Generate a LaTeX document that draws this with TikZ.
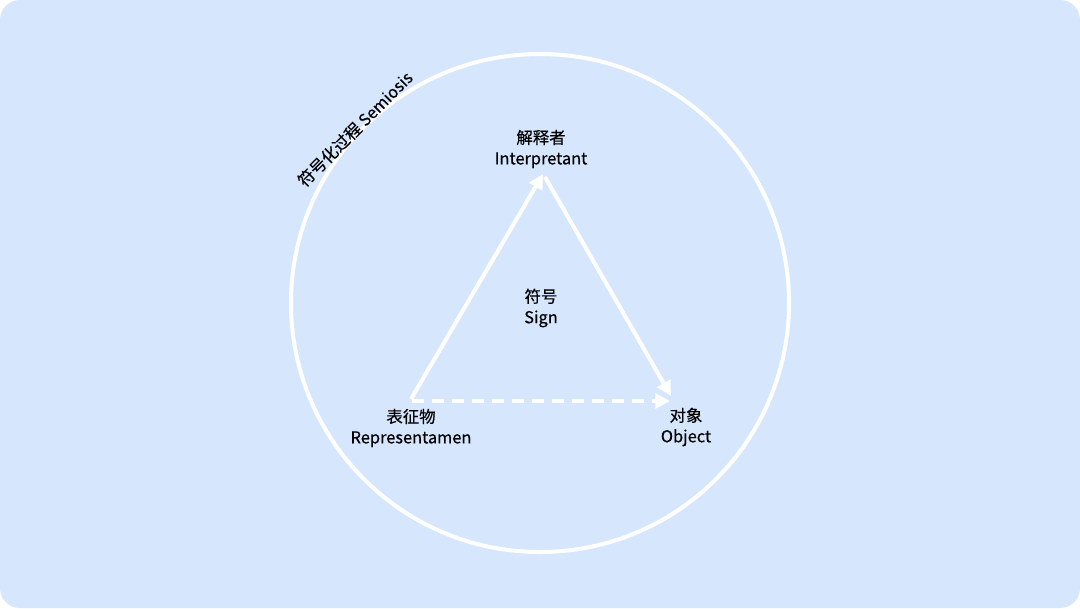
\documentclass[tikz,border=0pt]{standalone}
\usepackage{fontspec}
\setmainfont{Noto Sans CJK SC}[FakeBold=0.4]
\usetikzlibrary{arrows.meta}
\definecolor{bgblue}{HTML}{D6E6FD}
\tikzset{
    lbl/.style={align=center, font=\fontsize{12.3}{15.5}\selectfont, text=black, inner sep=0pt},
    edge/.style={white, line width=3pt, -{Triangle[length=11pt,width=11pt]}},
}
\begin{document}
\begin{tikzpicture}[x=0.75pt,y=-0.75pt]
\useasboundingbox (0,0) rectangle (1080,608);
\fill[white] (0,0) rectangle (1080,608);
\fill[bgblue, rounded corners=15pt] (0,0) rectangle (1080,608);
\draw[white, line width=3pt] (540,303) circle(249);
% corners of the triangle
\coordinate (R) at (411,399);
\coordinate (R2) at (412,401);
\coordinate (I) at (543,174);
\coordinate (I2) at (545,177);
\coordinate (O) at (671,396);
\coordinate (O2) at (670,401);
\draw[edge] (R) -- (I);
\draw[edge] (I2) -- (O);
\draw[edge, dash pattern=on 9pt off 6pt] (R2) -- (O2);
% labels
\node[lbl] (int) at (541,149) {解释者\\Interpretant};
\node[lbl] (sign) at (541,308) {符号\\Sign};
\node[lbl] (rep) at (411,428) {表征物\\Representamen};
\node[lbl] (obj) at (686,427) {对象\\Object};
\node[lbl, rotate=45] (semio) at (355,129) {符号化过程 Semiosis};
\end{tikzpicture}
\end{document}
